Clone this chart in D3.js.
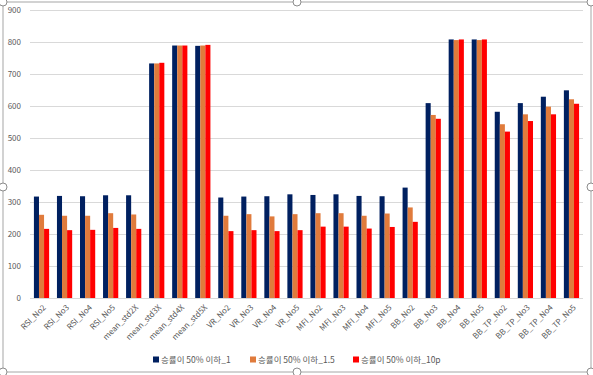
<!DOCTYPE html>
<html>
<head>
<meta charset="utf-8">
<script src="https://cdn.jsdelivr.net/npm/d3@7"></script>
<style>
  body { margin: 0; background: #fff; }
  text { font-family: "Noto Sans CJK KR", "Noto Sans", sans-serif; }
</style>
</head>
<body>
<svg id="chart" width="593" height="375"></svg>
<script>
// 카테고리 & 시리즈 값
const categories = [
  "RSI_No2", "RSI_No3", "RSI_No4", "RSI_No5",
  "mean_std2X", "mean_std3X", "mean_std4X", "mean_std5X",
  "VR_No2", "VR_No3", "VR_No4", "VR_No5",
  "MFI_No2", "MFI_No3", "MFI_No4", "MFI_No5",
  "BB_No2", "BB_No3", "BB_No4", "BB_No5",
  "BB_TP_No2", "BB_TP_No3", "BB_TP_No4", "BB_TP_No5"
];
const seriesNames = ["승률이 50% 이하_1", "승률이 50% 이하_1.5", "승률이 50% 이하_10p"];
const series1 = [317, 319, 318, 321, 321, 733, 789, 788, 314, 317, 318, 324, 322, 324, 319, 318, 345, 609, 808, 808, 582, 609, 629, 649];
const series15 = [260, 257, 257, 265, 261, 733, 789, 789, 257, 262, 255, 262, 265, 265, 257, 264, 283, 572, 806, 806, 543, 574, 598, 621];
const series10p = [216, 212, 213, 219, 216, 735, 789, 791, 209, 212, 209, 212, 223, 223, 217, 222, 238, 560, 808, 808, 520, 553, 574, 607];
const yTicks = [0, 100, 200, 300, 400, 500, 600, 700, 800, 900];

const colors = ["#002060", "#E07B3C", "#FF0000"];
const allSeries = [series1, series15, series10p];

const svg = d3.select("#chart");

// 차트 테두리 (선택된 상태)
svg.append("rect")
  .attr("x", 3).attr("y", 2)
  .attr("width", 588).attr("height", 370)
  .attr("fill", "#fff")
  .attr("stroke", "#A6A6A6")
  .attr("stroke-width", 1);

const margin = { left: 30, right: 10, top: 10 };
const plotRight = 583;
const plotBottom = 298;

const x = d3.scaleBand()
  .domain(categories)
  .range([margin.left, plotRight])
  .paddingInner(0.34)
  .paddingOuter(0.17);

const xSub = d3.scaleBand()
  .domain(d3.range(3))
  .range([0, x.bandwidth()]);

const y = d3.scaleLinear()
  .domain([0, 900])
  .range([plotBottom, margin.top]);

// 격자선
svg.append("g")
  .selectAll("line")
  .data(yTicks)
  .join("line")
    .attr("x1", margin.left)
    .attr("x2", plotRight)
    .attr("y1", d => Math.round(y(d)) + 0.5)
    .attr("y2", d => Math.round(y(d)) + 0.5)
    .attr("stroke", "#D9D9D9");

// y축 라벨
svg.append("g")
  .selectAll("text")
  .data(yTicks)
  .join("text")
    .attr("x", 21)
    .attr("y", d => y(d))
    .attr("dy", "0.35em")
    .attr("text-anchor", "end")
    .attr("font-size", "8px")
    .attr("fill", "#595959")
    .text(d => d);

// 막대
allSeries.forEach((vals, si) => {
  svg.append("g")
    .selectAll("rect")
    .data(vals)
    .join("rect")
      .attr("x", (d, i) => x(categories[i]) + xSub(si))
      .attr("y", d => y(d))
      .attr("width", xSub.bandwidth())
      .attr("height", d => plotBottom - y(d))
      .attr("fill", colors[si]);
});

// x축 라벨 (45도 회전)
svg.append("g")
  .selectAll("text")
  .data(categories)
  .join("text")
    .attr("transform", d => `translate(${x(d) + x.bandwidth() / 2 + 3},${plotBottom + 8}) rotate(-45)`)
    .attr("text-anchor", "end")
    .attr("dy", "0.35em")
    .attr("font-size", "8px")
    .attr("fill", "#595959")
    .text(d => d);

// 범례
const legendX = [153, 250, 353];
const legend = svg.append("g")
  .selectAll("g")
  .data(seriesNames)
  .join("g")
    .attr("transform", (d, i) => `translate(${legendX[i]},360)`);
legend.append("rect")
  .attr("x", 0).attr("y", -3.5)
  .attr("width", 6).attr("height", 6)
  .attr("fill", (d, i) => colors[i]);
legend.append("text")
  .attr("x", 8)
  .attr("dy", "0.35em")
  .attr("font-size", "8.5px")
  .attr("fill", "#595959")
  .text(d => d);

// 선택 핸들
const handles = [[3, 2], [297, 2], [591, 2], [3, 187], [591, 187], [3, 372], [297, 372], [591, 372]];
svg.append("g")
  .selectAll("circle")
  .data(handles)
  .join("circle")
    .attr("cx", d => d[0])
    .attr("cy", d => d[1])
    .attr("r", 4)
    .attr("fill", "#fff")
    .attr("stroke", "#8C8C8C");
</script>
</body>
</html>
